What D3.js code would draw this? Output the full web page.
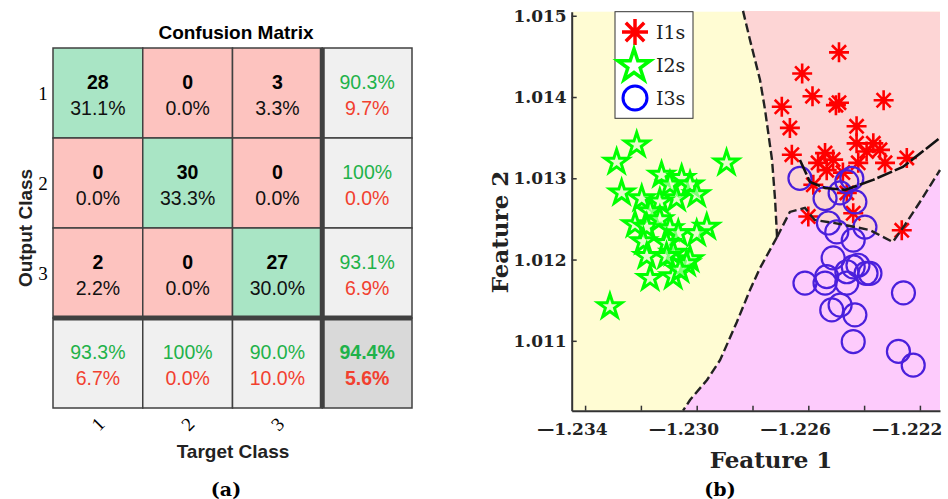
<!DOCTYPE html>
<html><head><meta charset="utf-8">
<script src="https://cdn.jsdelivr.net/npm/d3@7"></script>
<style>body{margin:0;background:#fff}</style>
</head><body>
<svg id="chart" width="948" height="499"></svg>
<script>
// ---------- Confusion matrix data ----------
const classes = ["1", "2", "3"];
const counts = [[28, 0, 3], [0, 30, 0], [2, 0, 27]];
const cellPct = [["31.1%", "0.0%", "3.3%"], ["0.0%", "33.3%", "0.0%"], ["2.2%", "0.0%", "30.0%"]];
const rowGood = ["90.3%", "100%", "93.1%"];
const rowBad = ["9.7%", "0.0%", "6.9%"];
const colGood = ["93.3%", "100%", "90.0%"];
const colBad = ["6.7%", "0.0%", "10.0%"];
const totalGood = "94.4%";
const totalBad = "5.6%";

// ---------- Scatter data (Feature 1, Feature 2) ----------
const I1s = [[-1.22490,1.01455],[-1.22622,1.01429],[-1.22585,1.01401],[-1.22501,1.01390],[-1.22490,1.01393],
 [-1.22330,1.01396],[-1.22695,1.01388],[-1.22666,1.01362],[-1.22427,1.01364],[-1.22659,1.01329],
 [-1.22540,1.01331],[-1.22511,1.01323],[-1.22427,1.01343],[-1.22367,1.01343],[-1.22343,1.01335],
 [-1.22421,1.01319],[-1.22325,1.01319],[-1.22247,1.01325],[-1.22534,1.01310],[-1.22582,1.01292],
 [-1.22462,1.01282],[-1.22600,1.01253],[-1.22439,1.01257],[-1.22265,1.01236],[-1.22476,1.01307],
 [-1.22391,1.01333],[-1.22565,1.01319]];
const I2s = [[-1.23215,1.01341],[-1.23287,1.01320],[-1.22893,1.01319],[-1.23126,1.01304],[-1.23054,1.01300],
 [-1.23096,1.01292],[-1.23024,1.01292],[-1.23269,1.01282],[-1.23197,1.01275],[-1.23072,1.01275],
 [-1.23000,1.01280],[-1.23132,1.01271],[-1.23167,1.01259],[-1.23221,1.01243],[-1.23179,1.01240],
 [-1.23132,1.01249],[-1.23096,1.01238],[-1.23066,1.01232],[-1.22964,1.01240],[-1.23000,1.01232],
 [-1.23191,1.01222],[-1.23108,1.01220],[-1.23179,1.01204],[-1.23084,1.01208],[-1.23024,1.01200],
 [-1.23108,1.01204],[-1.23036,1.01195],[-1.23167,1.01177],[-1.23084,1.01179],[-1.23060,1.01187],
 [-1.23311,1.01142]];
const I3s = [[-1.22630,1.01300],[-1.22540,1.01275],[-1.22462,1.01296],[-1.22444,1.01300],[-1.22486,1.01282],
 [-1.22433,1.01271],[-1.22528,1.01245],[-1.22498,1.01234],[-1.22397,1.01240],[-1.22439,1.01224],
 [-1.22511,1.01202],[-1.22439,1.01191],[-1.22379,1.01183],[-1.22393,1.01183],[-1.22462,1.01185],
 [-1.22534,1.01179],[-1.22612,1.01171],[-1.22540,1.01171],[-1.22462,1.01171],[-1.22259,1.01159],
 [-1.22516,1.01138],[-1.22486,1.01144],[-1.22433,1.01132],[-1.22439,1.01099],[-1.22277,1.01087],
 [-1.22224,1.01070],[-1.22422,1.01193]];

// decision region boundaries
const yellowPinkBoundary = [[-1.22834,1.01506],[-1.22809,1.014702],[-1.22773,1.014210],[-1.22755,1.013841],
 [-1.22730,1.013226],[-1.22719,1.012733],[-1.22712,1.012278]];
const yellowMagentaBoundary = [[-1.22712,1.012278],[-1.22773,1.011896],[-1.22809,1.011626],[-1.22856,1.011232],
 [-1.22916,1.010764],[-1.22963,1.010518],[-1.23024,1.010272],[-1.23049,1.01014]];
const pinkMagentaBoundary = [[-1.22712,1.012278],[-1.22666,1.012586],[-1.22612,1.012635],[-1.22577,1.012487],
 [-1.22487,1.012438],[-1.22380,1.012364],[-1.22297,1.012216],[-1.22254,1.012425],[-1.22200,1.012708],[-1.22128,1.013102]];
const decisionCurve = [[-1.22630,1.013226],[-1.22594,1.012955],[-1.22540,1.012881],[-1.22468,1.012857],
 [-1.22368,1.012980],[-1.22261,1.013140],[-1.22128,1.013497]];

const xDomain = [-1.23448, -1.22128];
const yDomain = [1.01014, 1.01505];
const xTicks = [-1.234, -1.232, -1.230, -1.228, -1.226, -1.224, -1.222];
const xTickLabels = {"-1.234": "—1.234", "-1.23": "—1.230", "-1.226": "—1.226", "-1.222": "—1.222"};
const yTicks = [1.011, 1.012, 1.013, 1.014, 1.015];
const legendLabels = ["I1s", "I2s", "I3s"];

const svg = d3.select("#chart");
svg.append("rect").attr("width", 948).attr("height", 499).attr("fill", "#fff");

// ================= Panel (a) =================
const sans = "'Liberation Sans', Arial, sans-serif";
const serif = "'Liberation Serif', 'Times New Roman', serif";
const cats = ["1", "2", "3", "S"];
const mx = d3.scaleBand().domain(cats).range([53, 412]);
const my = d3.scaleBand().domain(cats).range([48, 408]);
const green = "#a9e5c5", red = "#fdc3bf", gray = "#f0f0f0", dgray = "#d9d9d9";
const gTxt = "#1fb24a", rTxt = "#f2402f";
const A = svg.append("g");

const cells = [];
cats.forEach((r, i) => cats.forEach((c, j) => cells.push({r, c, i, j})));
A.selectAll("rect.cell").data(cells).join("rect")
  .attr("x", d => mx(d.c)).attr("y", d => my(d.r))
  .attr("width", mx.bandwidth()).attr("height", my.bandwidth())
  .attr("fill", d => (d.i === 3 && d.j === 3) ? dgray : (d.i === 3 || d.j === 3) ? gray : (d.i === d.j ? green : red))
  .attr("stroke", "#404040").attr("stroke-width", 1.5);

// thick separators
A.append("line").attr("x1", mx("S")).attr("x2", mx("S")).attr("y1", 48).attr("y2", 408)
  .attr("stroke", "#404040").attr("stroke-width", 5);
A.append("line").attr("x1", 53).attr("x2", 412).attr("y1", my("S")).attr("y2", my("S"))
  .attr("stroke", "#404040").attr("stroke-width", 5);

const bw = mx.bandwidth() / 2;
cells.forEach(d => {
  const cx = mx(d.c) + bw, cy = my(d.r) + bw;
  let t1, t2, c1, c2, w1 = "normal", w2 = "normal";
  if (d.i < 3 && d.j < 3) { t1 = String(counts[d.i][d.j]); t2 = cellPct[d.i][d.j]; c1 = "#000"; c2 = "#111"; w1 = "bold"; }
  else if (d.i < 3) { t1 = rowGood[d.i]; t2 = rowBad[d.i]; c1 = gTxt; c2 = rTxt; }
  else if (d.j < 3) { t1 = colGood[d.j]; t2 = colBad[d.j]; c1 = gTxt; c2 = rTxt; }
  else { t1 = totalGood; t2 = totalBad; c1 = gTxt; c2 = rTxt; w1 = "bold"; w2 = "bold"; }
  A.append("text").attr("x", cx).attr("y", cy - 11).attr("dy", "0.35em").attr("text-anchor", "middle")
    .attr("font-family", sans).attr("font-size", 19.5).attr("font-weight", w1).attr("fill", c1).text(t1);
  A.append("text").attr("x", cx).attr("y", cy + 15).attr("dy", "0.35em").attr("text-anchor", "middle")
    .attr("font-family", sans).attr("font-size", 19.5).attr("font-weight", w2).attr("fill", c2).text(t2);
});

A.append("text").attr("x", 236).attr("y", 32).attr("dy", "0.35em").attr("text-anchor", "middle")
  .attr("font-family", sans).attr("font-weight", "bold").attr("font-size", 19).text("Confusion Matrix");
A.selectAll("text.rowlab").data(classes).join("text")
  .attr("x", 43).attr("y", d => my(d) + bw).attr("dy", "0.35em").attr("text-anchor", "middle")
  .attr("font-family", serif).attr("font-size", 19).text(d => d);
A.selectAll("text.collab").data(classes).join("text")
  .attr("transform", d => `translate(${mx(d) + bw},424) rotate(-45)`).attr("dy", "0.35em").attr("text-anchor", "middle")
  .attr("font-family", serif).attr("font-size", 19).text(d => d);
A.append("text").attr("transform", "translate(25,228) rotate(-90)").attr("dy", "0.35em").attr("text-anchor", "middle")
  .attr("font-family", sans).attr("font-weight", "bold").attr("font-size", 19).attr("fill", "#222").text("Output Class");
A.append("text").attr("x", 233).attr("y", 451).attr("dy", "0.35em").attr("text-anchor", "middle")
  .attr("font-family", sans).attr("font-weight", "bold").attr("font-size", 19).attr("fill", "#222").text("Target Class");
A.append("text").attr("x", 226).attr("y", 489).attr("dy", "0.35em").attr("text-anchor", "middle")
  .attr("font-family", "'DejaVu Serif', serif").attr("font-weight", "bold").attr("font-size", 19).text("(a)");

// ================= Panel (b) =================
const x = d3.scaleLinear().domain(xDomain).range([571.7, 940]);
const y = d3.scaleLinear().domain(yDomain).range([410.7, 11.7]);
const B = svg.append("g");
const [x0, x1] = x.domain(), [y0, y1] = y.domain();

// background regions
B.append("rect").attr("x", x(x0)).attr("y", y(y1)).attr("width", x(x1) - x(x0)).attr("height", y(y0) - y(y1)).attr("fill", "#fffcd3");
const pinkPoly = [[x1, y1], ...yellowPinkBoundary, ...pinkMagentaBoundary.slice(1), [x1, y1]];
const magPoly = [...yellowMagentaBoundary, [x1, y0], ...pinkMagentaBoundary.slice().reverse()];
const toPts = arr => arr.map(p => [x(p[0]), y(p[1])]);
const area = d3.line();
B.append("path").attr("d", area(toPts(pinkPoly)) + "Z").attr("fill", "#fdd5d5");
B.append("path").attr("d", area(toPts(magPoly)) + "Z").attr("fill", "#fdcbfc");

// markers
const starPath = (R) => {
  const r = R * 0.382, pts = [];
  for (let k = 0; k < 10; k++) {
    const a = -Math.PI / 2 + k * Math.PI / 5, rr = k % 2 ? r : R;
    pts.push([rr * Math.cos(a), rr * Math.sin(a)]);
  }
  return d3.line()(pts) + "Z";
};
const asteriskPath = (R) => {
  let s = "";
  for (let k = 0; k < 4; k++) {
    const a = k * Math.PI / 4;
    s += `M${-R * Math.cos(a)},${-R * Math.sin(a)}L${R * Math.cos(a)},${R * Math.sin(a)}`;
  }
  return s;
};

B.selectAll("path.i1").data(I1s).join("path")
  .attr("transform", d => `translate(${x(d[0])},${y(d[1])})`).attr("d", asteriskPath(10))
  .attr("stroke", "#ff0000").attr("stroke-width", 2.6).attr("fill", "none");
B.selectAll("path.i2").data(I2s).join("path")
  .attr("transform", d => `translate(${x(d[0])},${y(d[1])})`).attr("d", starPath(12.5))
  .attr("stroke", "#00ff00").attr("stroke-width", 3).attr("fill", "#d6fbc4").attr("fill-opacity", 0.6)
  .attr("stroke-linejoin", "miter");
B.selectAll("circle.i3").data(I3s).join("circle")
  .attr("cx", d => x(d[0])).attr("cy", d => y(d[1])).attr("r", 11.5)
  .attr("stroke", "#4a1fdc").attr("stroke-width", 2.2).attr("fill", "none");

// boundary lines
const line = d3.line().x(d => x(d[0])).y(d => y(d[1]));
[yellowPinkBoundary, yellowMagentaBoundary, pinkMagentaBoundary].forEach(b =>
  B.append("path").attr("d", line(b)).attr("fill", "none").attr("stroke", "#222")
    .attr("stroke-width", 2.4).attr("stroke-dasharray", "9,4"));
B.append("path").attr("d", line(decisionCurve)).attr("fill", "none").attr("stroke", "#111")
  .attr("stroke-width", 2.6).attr("stroke-dasharray", "16,3");

// axes
const tickFont = "'DejaVu Serif', serif";
const xAxis = d3.axisBottom(x).tickValues(xTicks).tickSizeInner(-5).tickSizeOuter(0).tickPadding(12)
  .tickFormat(d => xTickLabels[String(+d.toFixed(3))] || "");
const gx = B.append("g").attr("transform", `translate(0,${y(y0)})`).call(xAxis);
gx.selectAll("text").attr("font-family", tickFont).attr("font-weight", "bold").attr("font-size", 17)
  .attr("fill", "#222").attr("text-anchor", "end").attr("dx", 22);
const yAxis = d3.axisLeft(y).tickValues(yTicks).tickSizeInner(-5).tickSizeOuter(0).tickPadding(5)
  .tickFormat(d3.format(".3f"));
const gy = B.append("g").attr("transform", `translate(${x(x0)},0)`).call(yAxis);
gy.selectAll("text").attr("font-family", tickFont).attr("font-weight", "bold").attr("font-size", 17).attr("fill", "#222");
[gx, gy].forEach(g => { g.select(".domain").attr("stroke", "#333").attr("stroke-width", 2); g.selectAll(".tick line").attr("stroke", "#333").attr("stroke-width", 1.5); });

B.append("text").attr("x", 771).attr("y", 460).attr("dy", "0.35em").attr("text-anchor", "middle")
  .attr("font-family", tickFont).attr("font-weight", "bold").attr("font-size", 23).attr("fill", "#222").text("Feature 1");
B.append("text").attr("transform", "translate(500,232) rotate(-90)").attr("dy", "0.35em").attr("text-anchor", "middle")
  .attr("font-family", tickFont).attr("font-weight", "bold").attr("font-size", 23).attr("fill", "#222").text("Feature 2");
B.append("text").attr("x", 720).attr("y", 489).attr("dy", "0.35em").attr("text-anchor", "middle")
  .attr("font-family", tickFont).attr("font-weight", "bold").attr("font-size", 19).text("(b)");

// legend
const L = B.append("g");
L.append("rect").attr("x", 615).attr("y", 11.7).attr("width", 78).attr("height", 106.6)
  .attr("fill", "#fff").attr("stroke", "#333").attr("stroke-width", 1);
const ly = d3.scalePoint().domain(legendLabels).range([32, 98]);
L.append("path").attr("transform", `translate(635,${ly("I1s")})`).attr("d", asteriskPath(13))
  .attr("stroke", "#ff0000").attr("stroke-width", 3.5).attr("fill", "none");
L.append("path").attr("transform", `translate(634,${ly("I2s") + 1})`).attr("d", starPath(17))
  .attr("stroke", "#00ff00").attr("stroke-width", 3.5).attr("fill", "#fff");
L.append("circle").attr("cx", 635).attr("cy", ly("I3s")).attr("r", 12)
  .attr("stroke", "#0000ff").attr("stroke-width", 3).attr("fill", "none");
L.selectAll("text.leg").data(legendLabels).join("text")
  .attr("x", 656).attr("y", d => ly(d)).attr("dy", "0.35em")
  .attr("font-family", tickFont).attr("font-size", 19).attr("fill", "#222").text(d => d);
</script>
</body></html>
